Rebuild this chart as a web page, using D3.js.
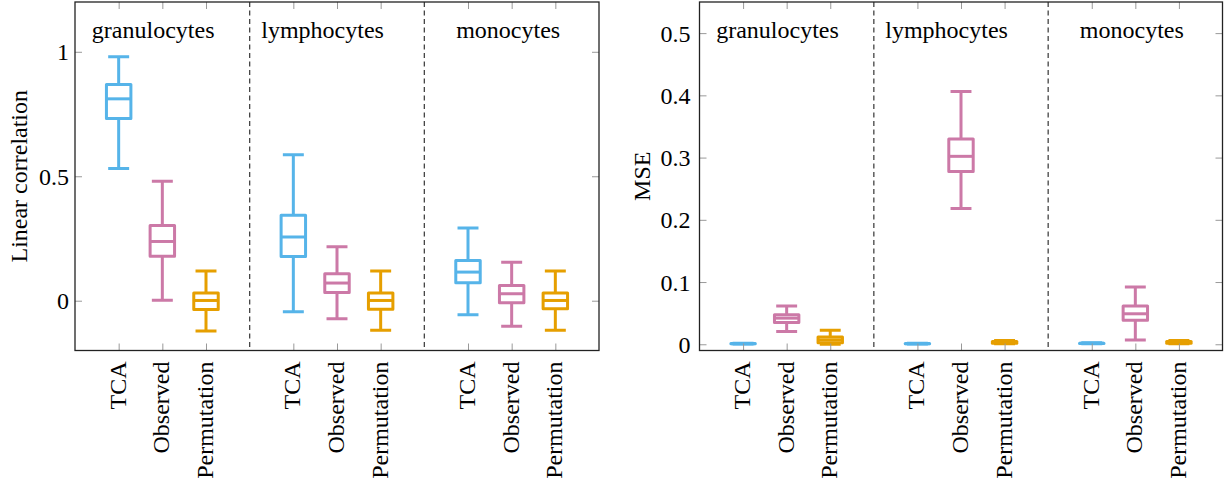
<!DOCTYPE html>
<html>
<head>
<meta charset="utf-8">
<script src="https://cdn.jsdelivr.net/npm/d3@7"></script>
<style>
  body { margin: 0; background: #fff; }
</style>
</head>
<body>
<svg id="chart" width="1225" height="483"></svg>
<script>
// categories
var groups = ['granulocytes', 'lymphocytes', 'monocytes'];
var methods = ['TCA', 'Observed', 'Permutation'];

// five-number summaries per group: [min, q1, median, q3, max]
var corrTCA = [[0.531, 0.732, 0.811, 0.869, 0.980], [-0.044, 0.178, 0.256, 0.343, 0.586], [-0.056, 0.072, 0.115, 0.162, 0.292]];
var corrObserved = [[0.002, 0.179, 0.238, 0.302, 0.480], [-0.072, 0.033, 0.071, 0.108, 0.217], [-0.103, -0.008, 0.028, 0.061, 0.155]];
var corrPermutation = [[-0.122, -0.035, 0.001, 0.031, 0.119], [-0.119, -0.034, 0.001, 0.031, 0.119], [-0.119, -0.032, 0.001, 0.031, 0.119]];

var mseTCA = [[0.0004, 0.0008, 0.0010, 0.0012, 0.0016], [0.0004, 0.0008, 0.0010, 0.0012, 0.0016], [0.0008, 0.0013, 0.0015, 0.0018, 0.0024]];
var mseObserved = [[0.0204, 0.0348, 0.0420, 0.0476, 0.0615], [0.218, 0.2776, 0.302, 0.330, 0.406], [0.007, 0.0385, 0.049, 0.0615, 0.092]];
var msePermutation = [[0.0002, 0.0025, 0.0070, 0.0115, 0.0225], [0.0008, 0.0018, 0.0030, 0.0045, 0.0062], [0.0008, 0.0018, 0.0030, 0.0045, 0.0062]];

// tick values
var corrTicks = [0, 0.5, 1];
var mseTicks = [0, 0.1, 0.2, 0.3, 0.4, 0.5];

/////////////
// Styles  //
/////////////

var FONT = '"Liberation Serif", "Times New Roman", serif';
var methodColors = {TCA: '#56B4E9', Observed: '#CC79A7', Permutation: '#E69F00'};
var labelOffsets = [1.79, 5.67, 9.92]; // group title centres, in slot units
var boxHalf = 0.28;
var capHalf = 0.24;
var tickLen = 7;

var svg = d3.select('#chart');

var fmt = function(v) {
  return v === 0 ? '0' : String(v);
};

var serifText = function(sel) {
  sel.attr('font-family', FONT)
    .style('font-family', FONT)
    .style('font-size', '24px')
    .attr('fill', '#000');
};

var drawPanel = function(opts) {
  var x = d3.scaleLinear().domain([0, 12]).range([opts.left, opts.right]);
  var y = d3.scaleLinear().domain(opts.domain).range([opts.bottom, opts.top]);
  var g = svg.append('g');

  // build flat list of boxes from the series arrays
  var boxes = [];
  groups.forEach(function(grp, gi) {
    methods.forEach(function(m, mi) {
      var s = opts.series[mi][gi];
      boxes.push({slot: gi * 4 + mi + 1, method: m, min: s[0], q1: s[1], med: s[2], q3: s[3], max: s[4]});
    });
  });
  var slots = boxes.map(function(d) { return d.slot; });

  // group separators
  g.selectAll('.sep')
    .data([4, 8])
    .enter().append('line')
      .attr('x1', function(d) { return x(d); })
      .attr('x2', function(d) { return x(d); })
      .attr('y1', opts.top)
      .attr('y2', opts.bottom)
      .attr('stroke', '#444')
      .attr('stroke-width', 1.3)
      .attr('stroke-dasharray', '5,3.5');

  // boxes
  var bx = g.selectAll('.box')
    .data(boxes)
    .enter().append('g')
      .attr('fill', 'none')
      .attr('stroke', function(d) { return methodColors[d.method]; })
      .attr('stroke-width', 3)
      .attr('stroke-linejoin', 'round');

  bx.append('path')
    .attr('d', function(d) {
      var cx = x(d.slot);
      return 'M' + cx + ',' + y(d.max) + 'V' + y(d.q3) +
        'M' + cx + ',' + y(d.q1) + 'V' + y(d.min);
    });
  bx.append('path')
    .attr('d', function(d) {
      var a = x(d.slot - capHalf), b = x(d.slot + capHalf);
      return 'M' + a + ',' + y(d.max) + 'H' + b +
        'M' + a + ',' + y(d.min) + 'H' + b;
    });
  bx.append('rect')
    .attr('x', function(d) { return x(d.slot - boxHalf); })
    .attr('width', function(d) { return x(d.slot + boxHalf) - x(d.slot - boxHalf); })
    .attr('y', function(d) { return y(d.q3); })
    .attr('height', function(d) { return Math.max(0.01, y(d.q1) - y(d.q3)); })
    .attr('fill', '#fff');
  bx.append('line')
    .attr('x1', function(d) { return x(d.slot - boxHalf); })
    .attr('x2', function(d) { return x(d.slot + boxHalf); })
    .attr('y1', function(d) { return y(d.med); })
    .attr('y2', function(d) { return y(d.med); });

  // inner ticks, all four sides
  var tickColor = '#999';
  var plainTicks = function(a) {
    a.select('.domain').remove();
    a.selectAll('line').attr('stroke', tickColor);
  };
  g.append('g')
    .attr('transform', 'translate(0,' + opts.bottom + ')')
    .call(d3.axisBottom(x).tickValues(slots).tickSize(-tickLen).tickFormat(''))
    .call(plainTicks);
  g.append('g')
    .attr('transform', 'translate(0,' + opts.top + ')')
    .call(d3.axisTop(x).tickValues(slots).tickSize(-tickLen).tickFormat(''))
    .call(plainTicks);
  g.append('g')
    .attr('transform', 'translate(' + opts.right + ',0)')
    .call(d3.axisRight(y).tickValues(opts.ticks).tickSize(-tickLen).tickFormat(''))
    .call(plainTicks);
  var yl = g.append('g')
    .attr('transform', 'translate(' + opts.left + ',0)')
    .call(d3.axisLeft(y).tickValues(opts.ticks).tickSize(-tickLen).tickFormat(fmt))
    .call(plainTicks);
  yl.selectAll('text')
    .attr('x', -opts.labelGap)
    .attr('dy', '0.34em')
    .call(serifText);

  // category labels under the axis, rotated
  g.selectAll('.xl')
    .data(boxes)
    .enter().append('text')
      .attr('transform', function(d) { return 'translate(' + (x(d.slot) - 1) + ',' + (opts.bottom + 11) + ') rotate(-90)'; })
      .attr('dy', '0.33em')
      .attr('text-anchor', 'end')
      .call(serifText)
      .text(function(d) { return d.method; });

  // group titles
  g.selectAll('.gt')
    .data(groups)
    .enter().append('text')
      .attr('x', function(d, i) { return x(labelOffsets[i]); })
      .attr('y', 38)
      .attr('text-anchor', 'middle')
      .call(serifText)
      .text(function(d) { return d; });

  // frame
  g.append('rect')
    .attr('x', opts.left)
    .attr('y', opts.top)
    .attr('width', opts.right - opts.left)
    .attr('height', opts.bottom - opts.top)
    .attr('fill', 'none')
    .attr('stroke', '#222')
    .attr('stroke-width', 1.3);

  // y title
  g.append('text')
    .attr('transform', 'translate(' + opts.titleX + ',' + ((opts.top + opts.bottom) / 2) + ') rotate(-90)')
    .attr('text-anchor', 'middle')
    .call(serifText)
    .text(opts.title);
};

drawPanel({
  left: 75, right: 599, top: 2, bottom: 350.5,
  domain: [-0.2, 1.2], ticks: corrTicks,
  series: [corrTCA, corrObserved, corrPermutation],
  title: 'Linear correlation', titleX: 27, labelGap: 6
});

drawPanel({
  left: 699.5, right: 1222.5, top: 2, bottom: 350.5,
  domain: [-0.01, 0.55], ticks: mseTicks,
  series: [mseTCA, mseObserved, msePermutation],
  title: 'MSE', titleX: 650, labelGap: 9
});
</script>
</body>
</html>
